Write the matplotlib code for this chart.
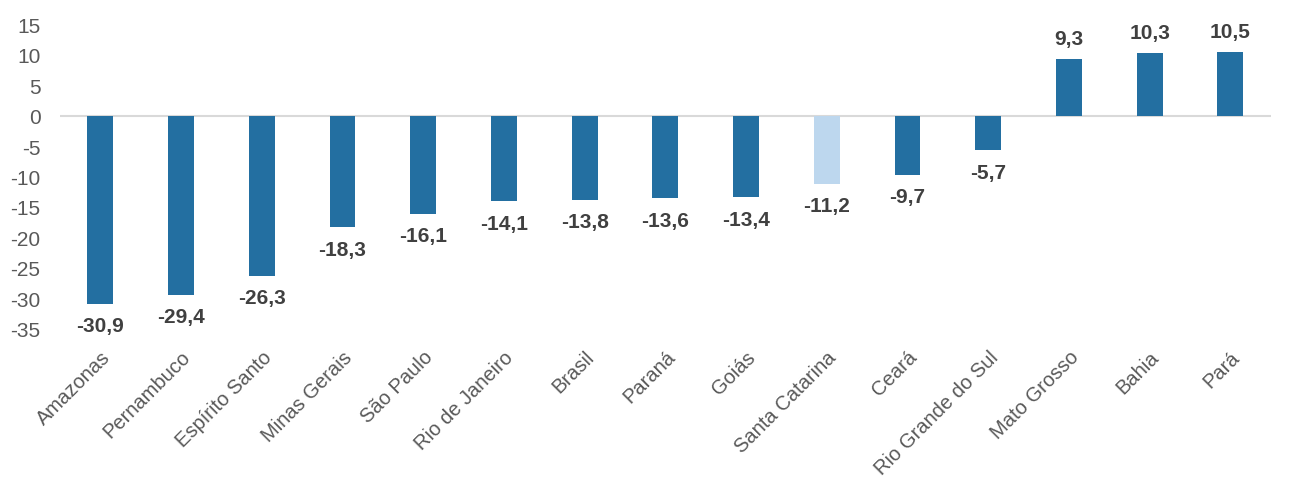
import matplotlib.pyplot as plt
from matplotlib import font_manager

names = {f.name for f in font_manager.fontManager.ttflist}
font = 'Liberation Sans Narrow' if 'Liberation Sans Narrow' in names else 'Liberation Sans'
plt.rcParams['font.family'] = [font, 'DejaVu Sans']
plt.rcParams['axes.unicode_minus'] = False

states = ['Amazonas', 'Pernambuco', 'Espírito Santo', 'Minas Gerais', 'São Paulo',
          'Rio de Janeiro', 'Brasil', 'Paraná', 'Goiás', 'Santa Catarina', 'Ceará',
          'Rio Grande do Sul', 'Mato Grosso', 'Bahia', 'Pará']
values = [-30.9, -29.4, -26.3, -18.3, -16.1, -14.1, -13.8, -13.6, -13.4, -11.2,
          -9.7, -5.7, 9.3, 10.3, 10.5]
highlight = 'Santa Catarina'

colors = ['#bdd7ee' if s == highlight else '#236fa1' for s in states]

fig = plt.figure(figsize=(13.02, 4.85), dpi=100)
ax = fig.add_axes([0.046, 0.32, 0.93, 0.628])

x = range(len(states))
bars = ax.bar(x, values, width=0.32, color=colors, zorder=2)

for xi, v in zip(x, values):
    label = f'{v:.1f}'.replace('.', ',')
    if v < 0:
        ax.annotate(label, (xi, v), xytext=(0, -9), textcoords='offset points',
                    ha='center', va='top', fontsize=15, fontweight='bold', color='#404040')
    else:
        ax.annotate(label, (xi, v), xytext=(0, 8), textcoords='offset points',
                    ha='center', va='bottom', fontsize=15, fontweight='bold', color='#404040')

ax.axhline(0, color='#d9d9d9', linewidth=1.5, zorder=1)
ax.set_xlim(-0.5, len(states) - 0.5)
ax.set_ylim(-35, 15)
ax.set_yticks(range(-35, 16, 5))
ax.set_xticks(list(x))
ax.set_xticklabels(states, rotation=45, ha='right', rotation_mode='anchor')
ax.tick_params(axis='both', length=0, colors='#595959')
ax.tick_params(axis='y', labelsize=15, pad=14)
ax.tick_params(axis='x', labelsize=14.5, pad=13)
for sp in ax.spines.values():
    sp.set_visible(False)

fig.savefig('out.png', dpi=100)
